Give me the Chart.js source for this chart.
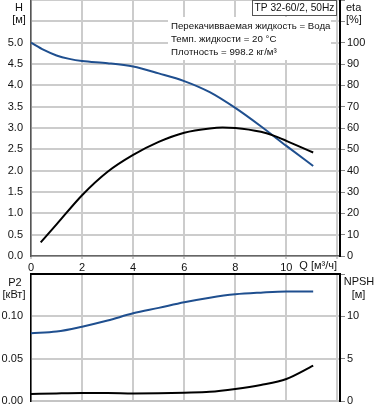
<!DOCTYPE html>
<html>
<head>
<meta charset="utf-8">
<script src="https://cdn.jsdelivr.net/npm/chart.js@4.4.0/dist/chart.umd.min.js"></script>
<style>
  body { margin: 0; background: #fff; }
  #wrap { position: relative; width: 378px; height: 410px; overflow: hidden; }
  canvas { position: absolute; left: 0; }
  .top { top: 0; }
  .bot { top: 268px; }
</style>
</head>
<body>
<div id="wrap">
  <canvas id="hChart" class="top" width="378" height="280"></canvas>
  <canvas id="etaChart" class="top" width="378" height="280"></canvas>
  <canvas id="p2Chart" class="bot" width="378" height="142"></canvas>
  <canvas id="npshChart" class="bot" width="378" height="142"></canvas>
</div>
<script>
// flow Q [m3/h] for each curve
const q_h    = [0, 0.5, 1, 1.5, 2, 3, 4, 5, 6, 7, 8, 9, 10, 11.05];
const head_h = [5.0, 4.83, 4.70, 4.62, 4.57, 4.52, 4.44, 4.28, 4.10, 3.84, 3.47, 3.04, 2.58, 2.11];

const q_eta  = [0.38, 1, 2, 3, 4, 5, 6, 7, 7.5, 8, 9, 9.5, 10, 11.05];
const eta    = [6.4, 14.8, 28.5, 39.5, 47.4, 53.5, 57.8, 59.8, 60.2, 60.0, 58.2, 56.4, 54.0, 48.5];

const q_p2   = [0, 1, 2, 3, 4, 5, 6, 7, 8, 9, 10, 11.05];
const p2     = [0.080, 0.082, 0.0878, 0.095, 0.1036, 0.110, 0.1166, 0.122, 0.126, 0.128, 0.1293, 0.1292];

const q_npsh = [0, 1, 2, 3, 4, 5, 6, 7, 8, 9, 10, 11.05];
const npsh   = [0.82, 0.9, 0.95, 0.95, 0.9, 0.92, 0.98, 1.08, 1.42, 1.9, 2.6, 4.17];

const xTicks = [0, 2, 4, 6, 8, 10, 12];

const title = 'TP 32-60/2, 50Hz';
const infoLines = ['Перекачивваемая жидкость = Вода', 'Темп. жидкости = 20 °C', 'Плотность = 998.2 кг/м³'];

const FONT = '"Liberation Sans", Arial, sans-serif';
const BLUE = '#1f4f8f';
const GRID = '#cccccc';
const TXT = '#111';

Chart.defaults.font.family = FONT;
Chart.defaults.font.size = 11;
Chart.defaults.color = TXT;

function pts(xs, ys) { return xs.map((x, i) => ({ x: x, y: ys[i] })); }

function fixW(w) {
  return s => { s.width = w; s.paddingTop = 0; s.paddingBottom = 0; };
}
function fixH(h) {
  return s => { s.height = h; s.paddingLeft = 0; s.paddingRight = 0; };
}

function lineSet(data, color, axis) {
  return {
    data: data, yAxisID: axis, borderColor: color, borderWidth: 2,
    pointRadius: 0, fill: false, cubicInterpolationMode: 'monotone'
  };
}

const baseOpts = {
  responsive: false, animation: false,
  plugins: { legend: { display: false }, tooltip: { enabled: false } }
};

const hiddenX = { type: 'linear', min: 0, max: 12.1, display: false };

// right axis (eta / NPSH) sits on an overlay chart, left axis chart carries the grid
const topLabels = {
  id: 'topLabels',
  afterDraw(chart) {
    const ctx = chart.ctx;
    const a = chart.chartArea;
    ctx.save();
    ctx.font = '11px ' + FONT;
    ctx.fillStyle = TXT;
    ctx.textBaseline = 'middle';
    ctx.textAlign = 'center';
    ctx.fillText('H', 19, 8);
    ctx.fillText('[м]', 19, 20);
    ctx.textAlign = 'left';
    ctx.fillText('eta', a.right + 6, 8);
    ctx.fillText('[%]', a.right + 6, 20);
    ctx.textAlign = 'right';
    ctx.fillText('Q [м³/ч]', a.right - 3, a.bottom + 10);

    // info block
    ctx.fillStyle = '#fff';
    ctx.fillRect(168, 17, 163, 43);
    ctx.fillStyle = TXT;
    ctx.textAlign = 'left';
    ctx.font = '9.7px ' + FONT;
    infoLines.forEach((t, i) => ctx.fillText(t, 171, 26 + i * 13));

    // title box
    ctx.fillStyle = '#fff';
    ctx.fillRect(252, 0, 85, 16);
    ctx.strokeStyle = '#555';
    ctx.lineWidth = 1;
    ctx.strokeRect(252.5, 0.5, 84, 15);
    ctx.fillStyle = TXT;
    ctx.textAlign = 'center';
    ctx.font = '10.2px ' + FONT;
    ctx.fillText(title, 294.5, 8.5);
    ctx.restore();
  }
};

const bottomLabels = {
  id: 'bottomLabels',
  afterDraw(chart) {
    const ctx = chart.ctx;
    const a = chart.chartArea;
    ctx.save();
    ctx.strokeStyle = '#000';
    ctx.lineWidth = 2;
    ctx.beginPath();
    ctx.moveTo(a.left - 1, a.top);
    ctx.lineTo(a.right + 1, a.top);
    ctx.stroke();
    ctx.font = '11px ' + FONT;
    ctx.fillStyle = TXT;
    ctx.textBaseline = 'middle';
    ctx.textAlign = 'center';
    ctx.fillText('P2', 15, 15);
    ctx.fillText('[кВт]', 14, 27);
    ctx.fillText('NPSH', 359, 14);
    ctx.fillText('[м]', 358.5, 27);
    ctx.restore();
  }
};

// H curve + grid
new Chart(document.getElementById('hChart'), {
  type: 'line',
  data: { datasets: [lineSet(pts(q_h, head_h), BLUE, 'y')] },
  options: Object.assign({}, baseOpts, {
    layout: { padding: { top: 0, left: 0, right: 38, bottom: 0 } },
    scales: {
      x: {
        type: 'linear', min: 0, max: 12.1,
        afterBuildTicks: s => { s.ticks = xTicks.map(v => ({ value: v })); },
        ticks: { padding: 2, callback: v => v === 12 ? '' : v },
        grid: { color: GRID, lineWidth: 2, tickLength: 3 },
        border: { color: '#666', width: 1.5 },
        afterFit: fixH(24)
      },
      y: {
        position: 'left', min: 0, max: 6,
        ticks: { stepSize: 0.5, padding: 8, callback: v => v > 5.4 ? '' : v.toFixed(1) },
        grid: { color: GRID, lineWidth: 2, tickLength: 0 },
        border: { color: '#555', width: 1.5 },
        afterFit: fixW(31)
      }
    }
  })
});

// eta curve + right axis
new Chart(document.getElementById('etaChart'), {
  type: 'line',
  data: { datasets: [lineSet(pts(q_eta, eta), '#000', 'y1')] },
  options: Object.assign({}, baseOpts, {
    layout: { padding: { top: 0, left: 31, right: 0, bottom: 24 } },
    scales: {
      x: hiddenX,
      y1: {
        position: 'right', min: 0, max: 120,
        ticks: { stepSize: 10, padding: 2, callback: v => v > 105 ? '' : v },
        grid: { drawOnChartArea: false, color: '#888', tickLength: 5, lineWidth: 1 },
        border: { color: '#000', width: 2 },
        afterFit: fixW(38)
      }
    }
  }),
  plugins: [topLabels]
});

// P2 curve + grid
new Chart(document.getElementById('p2Chart'), {
  type: 'line',
  data: { datasets: [lineSet(pts(q_p2, p2), BLUE, 'y')] },
  options: Object.assign({}, baseOpts, {
    layout: { padding: { top: 6, left: 0, right: 38, bottom: 0 } },
    scales: {
      x: {
        type: 'linear', min: 0, max: 12.1,
        afterBuildTicks: s => { s.ticks = xTicks.map(v => ({ value: v })); },
        ticks: { display: false },
        grid: { color: GRID, lineWidth: 2, tickLength: 0 },
        border: { color: '#c4c4c4', width: 2 },
        afterFit: fixH(9)
      },
      y: {
        position: 'left', min: 0, max: 0.15,
        ticks: { stepSize: 0.05, padding: 8, callback: v => v > 0.12 ? '' : v.toFixed(2) },
        grid: { color: GRID, lineWidth: 2, tickLength: 0 },
        border: { color: '#000', width: 1.5 },
        afterFit: fixW(31)
      }
    }
  })
});

// NPSH curve + right axis
new Chart(document.getElementById('npshChart'), {
  type: 'line',
  data: { datasets: [lineSet(pts(q_npsh, npsh), '#000', 'y1')] },
  options: Object.assign({}, baseOpts, {
    layout: { padding: { top: 6, left: 31, right: 0, bottom: 9 } },
    scales: {
      x: hiddenX,
      y1: {
        position: 'right', min: 0, max: 15,
        ticks: { stepSize: 5, padding: 2, callback: v => v > 12 ? '' : v },
        grid: { drawOnChartArea: false, color: '#888', tickLength: 5, lineWidth: 1 },
        border: { color: '#000', width: 2 },
        afterFit: fixW(38)
      }
    }
  }),
  plugins: [bottomLabels]
});
</script>
</body>
</html>
